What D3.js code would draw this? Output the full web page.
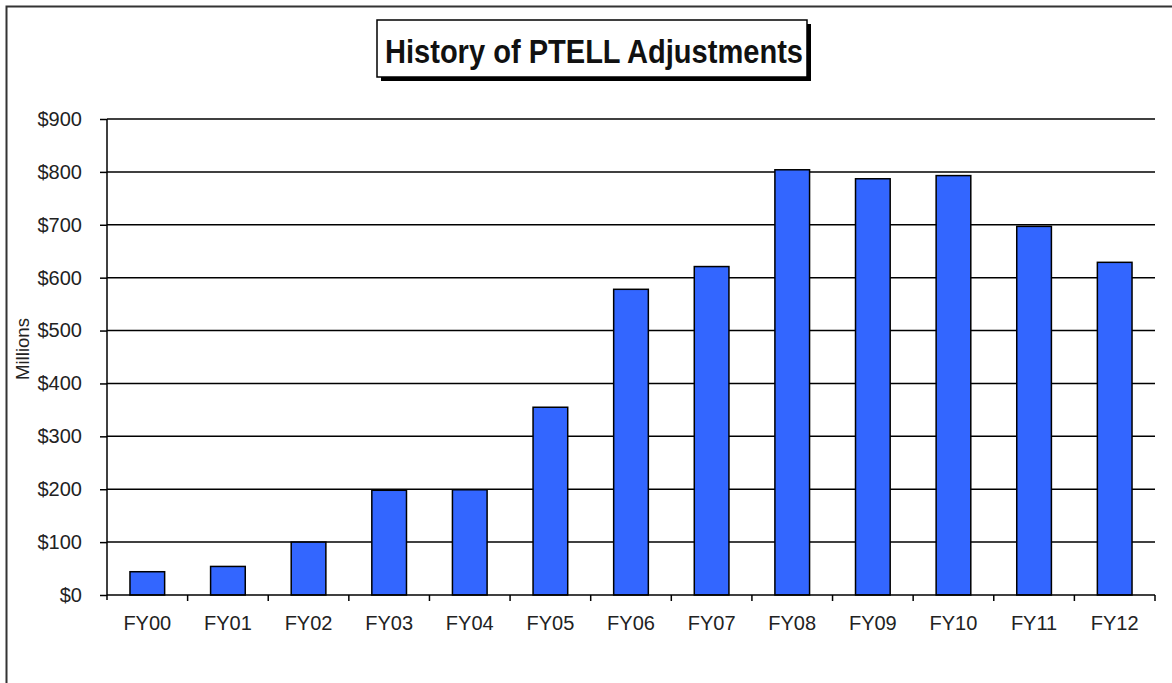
<!DOCTYPE html>
<html>
<head>
<meta charset="utf-8">
<script src="https://cdn.jsdelivr.net/npm/d3@7"></script>
<style>
  html, body { margin: 0; padding: 0; background: #fff; }
  svg { display: block; font-family: "Liberation Sans", Arial, sans-serif; }
</style>
</head>
<body>
<svg id="chart" width="1172" height="683"></svg>
<script>
const categories = ["FY00","FY01","FY02","FY03","FY04","FY05","FY06","FY07","FY08","FY09","FY10","FY11","FY12"];
const values = [44, 54, 100, 198, 199, 355, 578, 621, 804, 787, 793, 697, 629];
const yTicks = [0, 100, 200, 300, 400, 500, 600, 700, 800, 900];
const titleText = "History of PTELL Adjustments";
const yAxisTitle = "Millions";

const svg = d3.select("#chart");
const plotLeft = 107, plotRight = 1155, plotTop = 119, plotBottom = 595;

// outer frame (partially cropped like the reference)
svg.append("rect").attr("x", 6.5).attr("y", 6.5).attr("width", 1200).attr("height", 700)
  .attr("fill", "none").attr("stroke", "#333").attr("stroke-width", 2);

const x = d3.scaleBand().domain(categories).range([plotLeft, plotRight]).padding(0);
const y = d3.scaleLinear().domain([0, 900]).range([plotBottom, plotTop]);

// gridlines
svg.append("g").selectAll("line").data(yTicks.filter(d => d > 0)).join("line")
  .attr("x1", plotLeft).attr("x2", plotRight)
  .attr("y1", d => y(d)).attr("y2", d => y(d))
  .attr("stroke", "#000").attr("stroke-width", 1.5);

// bars
const barFrac = 0.43;
svg.append("g").selectAll("rect").data(values).join("rect")
  .attr("x", (d, i) => x(categories[i]) + x.bandwidth() * (1 - barFrac) / 2)
  .attr("width", x.bandwidth() * barFrac)
  .attr("y", d => y(d))
  .attr("height", d => y(0) - y(d))
  .attr("fill", "#3366FF")
  .attr("stroke", "#000").attr("stroke-width", 1.5);

// y axis
const yAxis = d3.axisLeft(y).tickValues(yTicks).tickSize(7).tickPadding(18)
  .tickFormat(d => "$" + d);
const gy = svg.append("g").attr("transform", `translate(${plotLeft},0)`).call(yAxis);
gy.select(".domain").remove();
gy.selectAll(".tick line").attr("stroke", "#000").attr("stroke-width", 1.5);
gy.selectAll(".tick text").attr("font-size", 20).attr("fill", "#222")
  .attr("font-family", "Liberation Sans, Arial, sans-serif");
svg.append("line").attr("x1", plotLeft).attr("x2", plotLeft).attr("y1", plotTop).attr("y2", plotBottom + 5)
  .attr("stroke", "#000").attr("stroke-width", 1.5);

// x axis
const gx = svg.append("g").attr("transform", `translate(0,${plotBottom})`);
gx.append("line").attr("x1", plotLeft).attr("x2", plotRight).attr("y1", 0).attr("y2", 0)
  .attr("stroke", "#000").attr("stroke-width", 1.5);
const boundaries = categories.map(c => x(c)).concat([x(categories[categories.length - 1]) + x.bandwidth()]);
gx.selectAll("line.tk").data(boundaries.slice(1)).join("line").attr("class", "tk")
  .attr("x1", d => d).attr("x2", d => d).attr("y1", 0).attr("y2", 6)
  .attr("stroke", "#000").attr("stroke-width", 1.5);
gx.selectAll("text").data(categories).join("text")
  .attr("x", d => x(d) + x.bandwidth() / 2)
  .attr("y", 35)
  .attr("text-anchor", "middle")
  .attr("font-size", 20).attr("fill", "#222")
  .text(d => d);

// y axis title
svg.append("text")
  .attr("transform", "translate(29,349) rotate(-90)")
  .attr("text-anchor", "middle")
  .attr("font-size", 18).attr("fill", "#222")
  .attr("textLength", 62).attr("lengthAdjust", "spacingAndGlyphs")
  .text(yAxisTitle);

// title box with shadow
svg.append("rect").attr("x", 381).attr("y", 24).attr("width", 430).attr("height", 57).attr("fill", "#000");
svg.append("rect").attr("x", 377).attr("y", 20).attr("width", 430).attr("height", 57)
  .attr("fill", "#fff").attr("stroke", "#000").attr("stroke-width", 1.5);
svg.append("text")
  .attr("x", 594).attr("y", 62.5)
  .attr("text-anchor", "middle")
  .attr("font-size", 34).attr("font-weight", "bold").attr("fill", "#111")
  .attr("textLength", 418).attr("lengthAdjust", "spacingAndGlyphs")
  .text(titleText);
</script>
</body>
</html>
